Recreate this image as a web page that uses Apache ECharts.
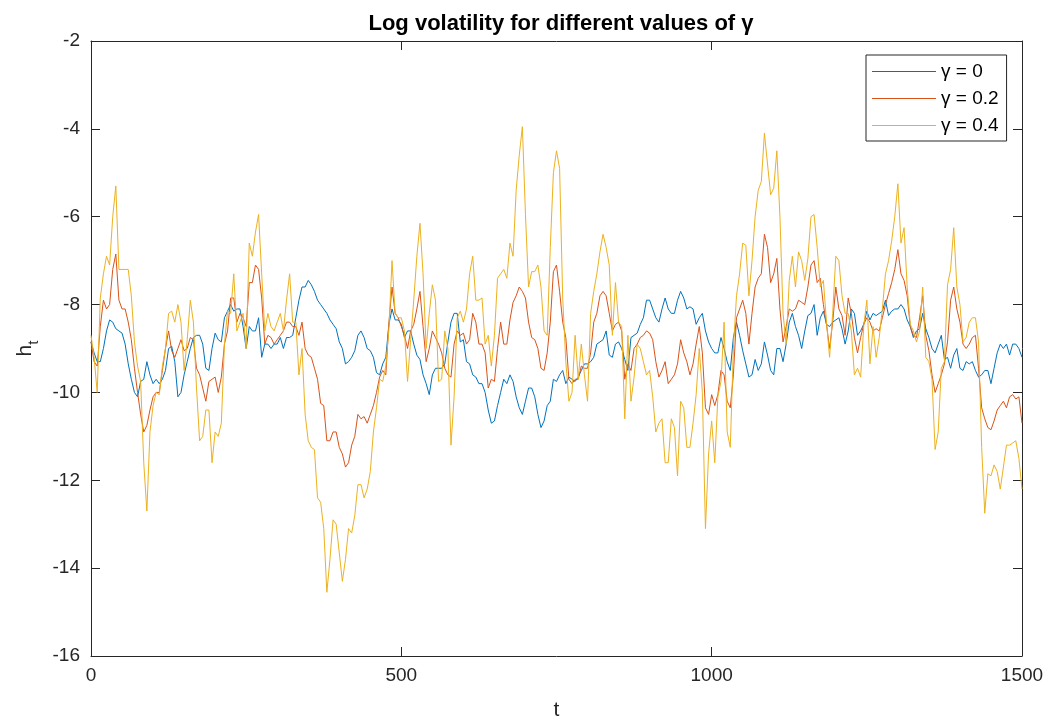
<!DOCTYPE html>
<html>
<head>
<meta charset="utf-8">
<script src="https://cdn.jsdelivr.net/npm/echarts@6/dist/echarts.min.js"></script>
<style>
html,body{margin:0;padding:0;background:#fff;}
#chart{width:1051px;height:726px;}
</style>
</head>
<body>
<div id="chart"></div>
<script>
// sampling step of the time axis (t); each row below covers 50 steps of t
const STEP = 5;
const xTicks = [0, 500, 1000, 1500];
const yTicks = [-16, -14, -12, -10, -8, -6, -4, -2];
const seriesNames = ['γ = 0', 'γ = 0.2', 'γ = 0.4'];

// h_t for gamma = 0
const gamma0 = [
-8.85,-9.1,-9.3,-9.3,-9.0,-8.6,-8.35,-8.4,-8.55,-8.6,
-8.65,-8.9,-9.35,-9.7,-10.0,-10.1,-9.75,-9.7,-9.3,-9.6,
-9.8,-9.7,-9.8,-9.7,-9.5,-9.0,-8.95,-9.3,-10.1,-10.0,
-9.6,-9.3,-9.0,-8.75,-8.7,-8.7,-8.9,-9.45,-9.5,-9.0,
-8.65,-8.8,-8.85,-8.3,-8.15,-8.0,-8.15,-8.1,-8.1,-8.5,
-9.0,-8.5,-8.6,-8.6,-8.3,-9.2,-8.9,-8.9,-9.0,-8.9,
-8.9,-8.75,-9.0,-8.75,-8.75,-8.7,-8.3,-7.9,-7.6,-7.6,
-7.45,-7.55,-7.7,-7.9,-8.0,-8.1,-8.2,-8.35,-8.45,-8.55,
-8.85,-9.0,-9.35,-9.3,-9.2,-9.05,-8.7,-8.6,-8.75,-9.0,
-9.05,-9.2,-9.55,-9.6,-9.35,-9.2,-8.45,-8.1,-8.35,-8.35,
-8.45,-8.75,-8.6,-8.6,-8.9,-9.15,-9.25,-9.6,-9.8,-10.05,
-9.6,-9.45,-9.45,-9.45,-9.35,-8.85,-8.4,-8.2,-8.2,-8.85,
-8.8,-9.3,-9.35,-9.6,-9.65,-9.8,-9.8,-10.0,-10.4,-10.7,
-10.65,-10.3,-10.0,-9.7,-9.8,-9.6,-9.75,-10.1,-10.35,-10.5,
-10.2,-9.9,-9.9,-10.1,-10.5,-10.8,-10.65,-10.3,-10.2,-9.7,
-9.75,-9.6,-9.5,-9.8,-9.65,-9.7,-9.75,-9.65,-9.5,-9.35,
-9.35,-9.3,-9.2,-8.9,-8.85,-8.8,-8.6,-9.15,-9.2,-8.9,
-8.85,-9.0,-9.25,-9.5,-8.75,-8.7,-8.65,-8.45,-8.3,-7.9,
-7.9,-8.1,-8.3,-8.4,-8.1,-7.85,-8.1,-8.2,-8.2,-7.9,
-7.7,-7.85,-8.1,-8.05,-8.1,-8.45,-8.3,-8.2,-8.6,-8.85,
-9.0,-9.1,-9.1,-8.75,-9.0,-9.3,-9.5,-8.75,-8.4,-8.7,
-9.05,-9.35,-9.65,-9.6,-9.25,-9.5,-9.35,-8.85,-9.15,-9.5,
-9.6,-9.0,-9.0,-9.3,-8.9,-8.4,-8.2,-8.5,-8.7,-9.0,
-8.6,-8.25,-8.2,-8.0,-8.7,-8.3,-8.15,-8.45,-8.5,-8.4,
-8.35,-8.3,-8.55,-8.9,-8.6,-8.1,-8.2,-8.7,-8.6,-8.45,
-8.15,-8.35,-8.2,-8.25,-8.2,-8.15,-7.9,-8.25,-8.15,-8.1,
-8.1,-8.0,-8.1,-8.35,-8.5,-8.75,-8.6,-8.55,-8.2,-8.55,
-8.75,-9.0,-9.1,-8.9,-8.7,-9.25,-9.2,-9.45,-9.15,-9.0,
-9.45,-9.5,-9.3,-9.35,-9.3,-9.5,-9.65,-9.6,-9.5,-9.5,
-9.8,-9.45,-9.1,-8.9,-9.0,-8.9,-9.15,-8.9,-8.9,-9.0,
-9.2
];

// h_t for gamma = 0.2
const gamma02 = [
-8.85,-9.3,-9.4,-8.5,-7.9,-8.1,-8.0,-7.2,-6.85,-7.9,
-8.1,-8.1,-8.4,-8.8,-9.45,-10.0,-10.5,-10.9,-10.75,-10.4,
-10.1,-10.0,-10.0,-9.5,-9.0,-8.6,-9.05,-9.2,-9.0,-8.8,
-9.05,-9.0,-8.75,-8.8,-9.45,-9.6,-9.9,-10.2,-9.75,-9.7,
-9.65,-10.0,-9.65,-8.9,-8.6,-7.85,-7.85,-8.4,-8.2,-8.3,
-8.5,-7.5,-7.5,-7.1,-7.2,-7.85,-8.9,-8.7,-8.75,-8.9,
-8.8,-8.7,-8.6,-8.4,-8.4,-8.5,-8.5,-8.7,-8.4,-9.0,
-9.15,-9.2,-9.45,-9.7,-10.25,-10.3,-11.1,-11.1,-10.9,-10.9,
-11.25,-11.4,-11.7,-11.6,-11.2,-11.0,-10.5,-10.6,-10.55,-10.7,
-10.5,-10.3,-10.0,-9.65,-9.5,-9.6,-8.4,-7.6,-8.2,-8.3,
-8.5,-8.7,-9.0,-8.6,-8.45,-8.1,-7.7,-8.5,-9.3,-9.0,
-8.6,-8.75,-8.9,-9.1,-9.45,-9.6,-9.65,-8.9,-8.6,-8.7,
-8.65,-8.9,-8.8,-8.2,-8.4,-8.9,-8.9,-9.1,-9.9,-9.7,
-9.75,-9.0,-8.4,-8.9,-8.9,-8.35,-7.95,-7.8,-7.6,-7.7,
-7.85,-8.4,-8.75,-8.8,-9.0,-9.45,-9.5,-9.1,-8.4,-7.25,
-7.1,-7.7,-8.4,-8.75,-9.7,-9.8,-9.7,-9.7,-9.4,-9.45,
-9.45,-9.1,-8.4,-8.2,-7.8,-7.7,-7.8,-8.2,-8.6,-8.45,
-8.4,-8.6,-9.7,-9.35,-9.5,-9.0,-8.9,-8.75,-8.7,-8.6,
-8.65,-8.8,-9.3,-9.65,-9.5,-9.3,-9.8,-9.7,-9.6,-9.35,
-8.8,-9.1,-9.3,-9.6,-9.35,-8.9,-8.5,-9.1,-10.35,-10.5,
-10.05,-10.3,-10.05,-9.5,-9.6,-10.2,-10.35,-9.6,-8.3,-8.1,
-7.9,-8.2,-8.9,-8.2,-7.6,-7.4,-7.3,-6.4,-6.7,-7.5,
-7.3,-6.95,-8.1,-8.85,-8.5,-8.1,-8.15,-8.1,-7.9,-7.95,
-8.0,-7.6,-7.1,-7.0,-7.5,-7.4,-8.0,-8.45,-9.0,-8.4,
-7.6,-8.1,-8.25,-8.7,-7.85,-8.2,-8.75,-9.1,-8.75,-8.45,
-8.3,-8.4,-8.6,-8.55,-8.6,-8.3,-8.0,-7.75,-7.5,-7.2,
-6.75,-7.3,-7.45,-7.8,-8.5,-8.7,-8.75,-8.3,-7.8,-8.7,
-9.05,-9.6,-10.0,-9.8,-9.6,-9.35,-8.85,-7.9,-7.6,-8.1,
-8.4,-8.9,-9.0,-8.9,-8.75,-8.7,-9.45,-10.35,-10.6,-10.8,
-10.85,-10.65,-10.4,-10.3,-10.2,-10.35,-10.1,-10.05,-10.15,-10.1,
-10.7
];

// h_t for gamma = 0.4
const gamma04 = [
-8.7,-9.2,-10.0,-7.85,-7.3,-6.9,-7.1,-6.0,-5.3,-7.2,
-7.2,-7.2,-7.2,-7.8,-8.85,-9.4,-9.75,-11.6,-12.7,-10.9,
-10.3,-10.0,-10.05,-9.4,-9.0,-8.2,-8.15,-8.4,-8.0,-8.4,
-9.5,-8.8,-7.9,-8.4,-9.9,-11.1,-11.0,-10.4,-10.4,-11.6,
-10.9,-11.0,-10.7,-8.9,-8.15,-8.2,-7.3,-8.6,-8.4,-8.2,
-9.0,-6.6,-6.9,-6.35,-5.95,-7.3,-8.6,-8.2,-8.5,-8.6,
-8.4,-8.2,-8.6,-7.9,-7.3,-8.4,-8.4,-9.6,-9.0,-10.5,
-11.1,-11.25,-11.3,-12.4,-12.5,-13.1,-14.55,-13.8,-12.9,-13.0,
-13.65,-14.3,-13.8,-13.1,-13.2,-12.8,-12.1,-12.1,-12.4,-12.2,
-11.8,-10.9,-10.35,-9.7,-9.75,-9.4,-8.55,-7.0,-8.2,-8.3,
-8.3,-8.6,-9.75,-8.8,-7.9,-6.9,-6.15,-7.3,-9.0,-8.2,
-7.55,-7.9,-9.75,-9.7,-8.6,-9.0,-11.2,-10.1,-8.3,-8.15,
-8.4,-8.1,-7.3,-6.9,-7.9,-7.9,-7.85,-8.9,-8.7,-9.4,
-8.7,-7.4,-7.3,-7.2,-7.4,-6.6,-6.9,-5.4,-4.6,-3.95,
-5.95,-7.6,-7.25,-7.25,-7.1,-7.6,-8.6,-8.7,-6.7,-5.0,
-4.5,-4.9,-7.85,-9.3,-10.2,-10.0,-8.7,-9.7,-8.9,-9.6,
-10.2,-8.2,-7.7,-7.3,-6.8,-6.4,-6.7,-7.1,-8.7,-7.5,
-8.4,-8.5,-10.6,-8.7,-10.2,-9.65,-8.9,-9.0,-9.3,-9.6,
-9.5,-10.1,-10.9,-10.7,-10.6,-11.6,-11.6,-10.6,-10.8,-11.9,
-10.2,-10.35,-11.25,-11.25,-10.7,-10.05,-9.0,-10.0,-13.1,-11.4,
-10.65,-11.6,-10.1,-9.75,-8.4,-10.9,-11.25,-9.0,-7.8,-7.3,
-6.6,-6.65,-7.8,-7.0,-6.0,-5.4,-5.2,-4.1,-4.8,-5.5,
-5.35,-4.5,-6.0,-8.2,-8.9,-7.45,-6.9,-7.6,-6.8,-7.0,
-7.45,-6.95,-6.0,-5.95,-6.7,-7.6,-7.45,-8.4,-9.2,-8.2,
-6.9,-7.0,-7.8,-8.2,-8.2,-8.6,-9.6,-9.45,-9.65,-8.5,
-7.9,-9.35,-8.5,-9.2,-8.75,-8.1,-7.3,-7.0,-6.55,-6.0,
-5.25,-6.6,-6.25,-7.6,-8.45,-8.6,-8.85,-8.6,-7.6,-9.2,
-9.3,-9.7,-11.3,-10.9,-9.45,-9.3,-7.55,-7.2,-6.25,-7.6,
-8.0,-8.85,-8.75,-8.4,-8.3,-8.3,-8.85,-11.25,-12.75,-11.85,
-11.9,-11.65,-11.8,-12.2,-11.7,-11.2,-11.2,-11.15,-11.1,-11.5,
-12.2
];

const colors = ['#0072BD', '#D95319', '#EDB120'];
const axisColor = '#262626';
const FONT = '"Liberation Sans", Arial, Helvetica, sans-serif';

function toPairs(arr) {
  return arr.map((v, i) => [i * STEP, v]);
}

const chart = echarts.init(document.getElementById('chart'), null, {renderer: 'canvas'});

const baseX = {
  type: 'value', min: xTicks[0], max: xTicks[xTicks.length - 1], interval: 500,
  splitLine: {show: false},
  axisLine: {show: true, onZero: false, lineStyle: {color: axisColor, width: 1}},
  axisTick: {show: true, inside: true, length: 9, lineStyle: {color: axisColor}},
};
const baseY = {
  type: 'value', min: yTicks[0], max: yTicks[yTicks.length - 1], interval: 2,
  splitLine: {show: false},
  axisLine: {show: true, onZero: false, lineStyle: {color: axisColor, width: 1}},
  axisTick: {show: true, inside: true, length: 9, lineStyle: {color: axisColor}},
};

const option = {
  backgroundColor: '#ffffff',
  animation: false,
  textStyle: {fontFamily: FONT},
  title: {
    text: 'Log volatility for different values of γ',
    left: 556, top: 8, textAlign: 'center',
    textStyle: {fontFamily: FONT, fontWeight: 'bold', fontSize: 22, color: '#000'}
  },
  grid: {left: 91, right: 29, top: 41, bottom: 68, containLabel: false},
  legend: {
    left: 866, top: 55, orient: 'vertical',
    backgroundColor: '#fff',
    borderColor: axisColor, borderWidth: 1,
    padding: [7, 8, 6, 6],
    itemWidth: 64, itemHeight: 14, itemGap: 8,
    icon: 'path://M0,0 H64 V1 H0 Z',
    symbolKeepAspect: true,
    textStyle: {fontFamily: FONT, fontSize: 19, color: '#000'},
    data: seriesNames
  },
  xAxis: [
    Object.assign({}, baseX, {
      position: 'bottom',
      name: 't', nameLocation: 'middle', nameGap: 44,
      nameTextStyle: {fontFamily: FONT, fontSize: 21, color: axisColor},
      axisLabel: {show: true, color: axisColor, fontSize: 19, fontFamily: FONT, margin: 10,
                  formatter: v => String(v)}
    }),
    Object.assign({}, baseX, {position: 'top', axisLabel: {show: false}})
  ],
  yAxis: [
    Object.assign({}, baseY, {
      position: 'left',
      name: '{h|h}{s|t}', nameLocation: 'middle', nameGap: 52, nameRotate: 90,
      nameTextStyle: {
        color: axisColor,
        rich: {
          h: {fontFamily: FONT, fontSize: 21, color: axisColor, verticalAlign: 'top', lineHeight: 24},
          s: {fontFamily: FONT, fontSize: 15, color: axisColor, verticalAlign: 'top', lineHeight: 16, padding: [12, 0, 0, 0]}
        }
      },
      axisLabel: {show: true, color: axisColor, fontSize: 19, fontFamily: FONT, margin: 11,
                  formatter: v => String(v)}
    }),
    Object.assign({}, baseY, {position: 'right', axisLabel: {show: false}})
  ],
  series: [
    {name: seriesNames[0], type: 'line', data: toPairs(gamma0), symbol: 'none',
     lineStyle: {color: colors[0], width: 1}, itemStyle: {color: colors[0]}, z: 3},
    {name: seriesNames[1], type: 'line', data: toPairs(gamma02), symbol: 'none',
     lineStyle: {color: colors[1], width: 1}, itemStyle: {color: colors[1]}, z: 4},
    {name: seriesNames[2], type: 'line', data: toPairs(gamma04), symbol: 'none',
     lineStyle: {color: colors[2], width: 1}, itemStyle: {color: colors[2]}, z: 5}
  ]
};

chart.setOption(option);
</script>
</body>
</html>
